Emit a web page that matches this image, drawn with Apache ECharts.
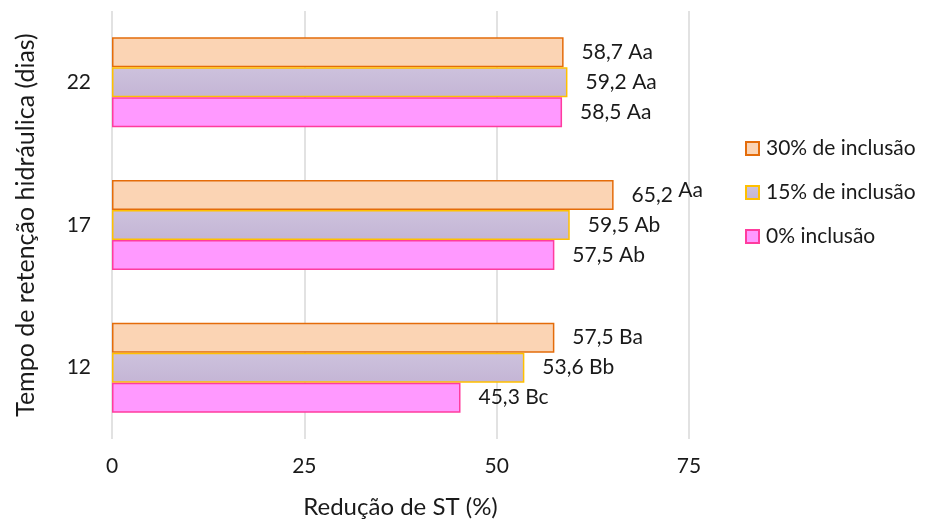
<!DOCTYPE html>
<html>
<head>
<meta charset="utf-8">
<script src="https://cdn.jsdelivr.net/npm/echarts@6/dist/echarts.min.js"></script>
<style>
  html, body { margin: 0; padding: 0; background: #fff; }
  #chart { width: 925px; height: 520px; }
</style>
</head>
<body>
<div id="chart"></div>
<script>
// Hydraulic retention time (days), bottom to top
const categories = ['12', '17', '22'];

// Solids (ST) reduction, %, per inclusion level
const names = ['30% de inclusão', '15% de inclusão', '0% inclusão'];
const values30 = [57.5, 65.2, 58.7];
const values15 = [53.6, 59.5, 59.2];
const values0 = [45.3, 57.5, 58.5];

// Statistical letters shown next to each value
const letters30 = ['Ba', 'Aa', 'Aa'];
const letters15 = ['Bb', 'Ab', 'Aa'];
const letters0 = ['Bc', 'Ab', 'Aa'];

const xTicks = [0, 25, 50, 75];

const FONT = 'Lato';
const TXT = '#1a1a1a';

function fmt(v) {
  return v.toFixed(1).replace('.', ',');
}

function makeSeries(name, values, letters, fill, border) {
  return {
    name: name,
    type: 'bar',
    barWidth: 30,
    barGap: '0%',
    data: values.map(function (v, i) {
      return { value: v, letter: letters[i] };
    }),
    itemStyle: { color: fill, borderColor: border, borderWidth: 1.5 },
    label: {
      show: true,
      position: 'right',
      distance: 18,
      fontFamily: FONT,
      fontSize: 21,
      color: TXT,
      formatter: function (p) {
        // the longest bar carries its letters slightly raised
        if (p.value === 65.2) {
          return '{n|' + fmt(p.value) + '} {r|' + p.data.letter + '}';
        }
        return fmt(p.value) + ' ' + p.data.letter;
      },
      rich: {
        n: { fontFamily: FONT, fontSize: 21, color: TXT },
        r: { fontFamily: FONT, fontSize: 21, color: TXT, padding: [0, 0, 10, 0] }
      }
    }
  };
}

const lavender = new echarts.graphic.LinearGradient(0, 0, 0, 1, [
  { offset: 0, color: '#cdc2dd' },
  { offset: 1, color: '#c4b5d5' }
]);

const chart = echarts.init(document.getElementById('chart'), null, { renderer: 'canvas' });

chart.setOption({
  animation: false,
  backgroundColor: '#ffffff',
  textStyle: { fontFamily: FONT },
  grid: {
    left: 112, right: 236, top: 11, bottom: 81,
    containLabel: false,
    outerBoundsMode: 'none'
  },
  legend: {
    orient: 'vertical',
    left: 740,
    top: 133,
    itemWidth: 13,
    itemHeight: 13,
    itemGap: 23,
    icon: 'rect',
    textStyle: { fontFamily: FONT, fontSize: 21, color: TXT, padding: [0, 0, 0, 2] },
    data: names
  },
  xAxis: {
    type: 'value',
    min: xTicks[0],
    max: xTicks[xTicks.length - 1],
    interval: 25,
    name: 'Redução de ST (%)',
    nameLocation: 'middle',
    nameGap: 56,
    nameTextStyle: { fontFamily: FONT, fontSize: 24, color: TXT },
    axisLine: { show: false },
    axisTick: { show: false },
    axisLabel: { fontFamily: FONT, fontSize: 21, color: TXT, margin: 17 },
    splitLine: { show: true, lineStyle: { color: '#d9d9d9', width: 1.5 } }
  },
  yAxis: {
    type: 'category',
    data: categories,
    name: 'Tempo de retenção hidráulica (dias)',
    nameLocation: 'middle',
    nameGap: 74,
    nameTextStyle: { fontFamily: FONT, fontSize: 25, color: TXT },
    axisLine: { show: false },
    axisTick: { show: false },
    axisLabel: { fontFamily: FONT, fontSize: 21, color: TXT, margin: 21 },
    splitLine: { show: false }
  },
  series: [
    makeSeries(names[0], values30, letters30, '#fbd4b4', '#e46c0a'),
    makeSeries(names[1], values15, letters15, lavender, '#ffc000'),
    makeSeries(names[2], values0, letters0, '#ff99ff', '#ff3c9e')
  ]
});
</script>
</body>
</html>
